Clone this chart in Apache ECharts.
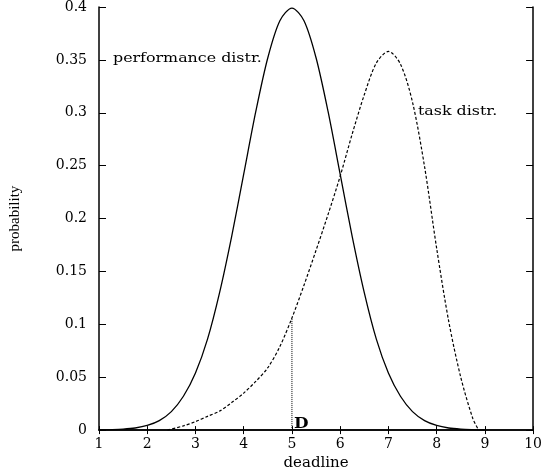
<!DOCTYPE html>
<html>
<head>
<meta charset="utf-8">
<script src="https://cdn.jsdelivr.net/npm/echarts@6/dist/echarts.min.js"></script>
<style>
  html, body { margin: 0; padding: 0; background: #fff; }
  #chart { width: 545px; height: 476px; }
</style>
</head>
<body>
<div id="chart"></div>
<script>
// performance distribution (solid)
const perfX = [1, 1.25, 1.5, 1.75, 2, 2.25, 2.5, 2.75, 3, 3.25, 3.5, 3.75, 4, 4.25, 4.5, 4.75, 5,
  5.25, 5.5, 5.75, 6, 6.25, 6.5, 6.75, 7, 7.25, 7.5, 7.75, 8, 8.25, 8.5, 8.75, 9];
const perfY = [0.0001, 0.0004, 0.0009, 0.002, 0.0044, 0.009, 0.0175, 0.032, 0.054, 0.086, 0.13, 0.183, 0.242, 0.301, 0.352, 0.387, 0.399,
  0.387, 0.352, 0.301, 0.242, 0.183, 0.13, 0.086, 0.054, 0.032, 0.0175, 0.009, 0.0044, 0.002, 0.0009, 0.0004, 0.0001];

// task distribution (dashed)
const taskX = [2.42, 2.75, 3, 3.25, 3.5, 3.75, 4, 4.25, 4.5, 4.75, 5, 5.25, 5.5, 5.75, 6, 6.25, 6.5, 6.75, 7, 7.25, 7.5, 7.75, 8, 8.25, 8.5, 8.75, 8.87];
const taskY = [0, 0.004, 0.008, 0.013, 0.018, 0.026, 0.035, 0.046, 0.059, 0.079, 0.106, 0.137, 0.17, 0.204, 0.24, 0.28, 0.317, 0.347, 0.358, 0.346, 0.31, 0.249, 0.172, 0.103, 0.05, 0.011, 0];

// deadline marker D
const deadlineX = [5, 5];
const deadlineY = [0, 0.106];

const xTicks = { min: 1, max: 10, interval: 1 };
const yTicks = { min: 0, max: 0.4, interval: 0.05 };

const zip = (xs, ys) => xs.map((x, i) => [x, ys[i]]);

const serif = "DejaVu Serif";
const chart = echarts.init(document.getElementById("chart"));

const baseX = {
  type: "value",
  min: xTicks.min,
  max: xTicks.max,
  interval: xTicks.interval,
  splitLine: { show: false },
  axisLine: { lineStyle: { color: "#000", width: 1.5 } },
  axisTick: { inside: true, length: 4, lineStyle: { color: "#000" } },
};
const baseY = {
  type: "value",
  min: yTicks.min,
  max: yTicks.max,
  interval: yTicks.interval,
  splitLine: { show: false },
  axisLine: { show: true, lineStyle: { color: "#000", width: 1.5 } },
  axisTick: { show: true, inside: true, length: 7, lineStyle: { color: "#000" } },
};

chart.setOption({
  animation: false,
  backgroundColor: "#fff",
  grid: { left: 99, right: 10, top: 5, bottom: 43 },
  xAxis: [
    Object.assign({}, baseX, {
      position: "bottom",
      name: "deadline",
      nameLocation: "middle",
      nameGap: 21,
      nameTextStyle: { fontFamily: serif, fontSize: 15, color: "#000" },
      axisLabel: { fontFamily: serif, fontSize: 14, color: "#000", margin: 7 },
    }),
    Object.assign({}, baseX, { position: "top", axisLabel: { show: false } }),
  ],
  yAxis: [
    Object.assign({}, baseY, {
      position: "left",
      name: "probability",
      nameLocation: "middle",
      nameRotate: 90,
      nameGap: 76,
      nameTextStyle: { fontFamily: "Liberation Serif", fontSize: 15, color: "#000" },
      axisLabel: { fontFamily: serif, fontSize: 14, color: "#000", margin: 12 },
    }),
    Object.assign({}, baseY, { position: "right", axisLabel: { show: false } }),
  ],
  graphic: [
    { type: "text", x: 113, y: 52, scaleX: 1.22, style: { text: "performance distr.", font: "13px 'DejaVu Serif'", fill: "#000" } },
    { type: "text", x: 418, y: 105, scaleX: 1.22, style: { text: "task distr.", font: "13px 'DejaVu Serif'", fill: "#000" } },
    { type: "text", x: 294, y: 417, scaleX: 1.2, style: { text: "D", font: "bold 14px 'DejaVu Serif'", fill: "#000" } },
  ],
  series: [
    {
      type: "line",
      data: zip(perfX, perfY),
      showSymbol: false,
      smooth: 0.3,
      lineStyle: { color: "#000", width: 1.3 },
    },
    {
      type: "line",
      data: zip(taskX, taskY),
      showSymbol: false,
      smooth: 0.3,
      lineStyle: { color: "#000", width: 1.2, type: [3, 2] },
    },
    {
      type: "line",
      data: zip(deadlineX, deadlineY),
      showSymbol: false,
      lineStyle: { color: "#000", width: 1, type: [1, 1] },
    },
  ],
});
</script>
</body>
</html>
